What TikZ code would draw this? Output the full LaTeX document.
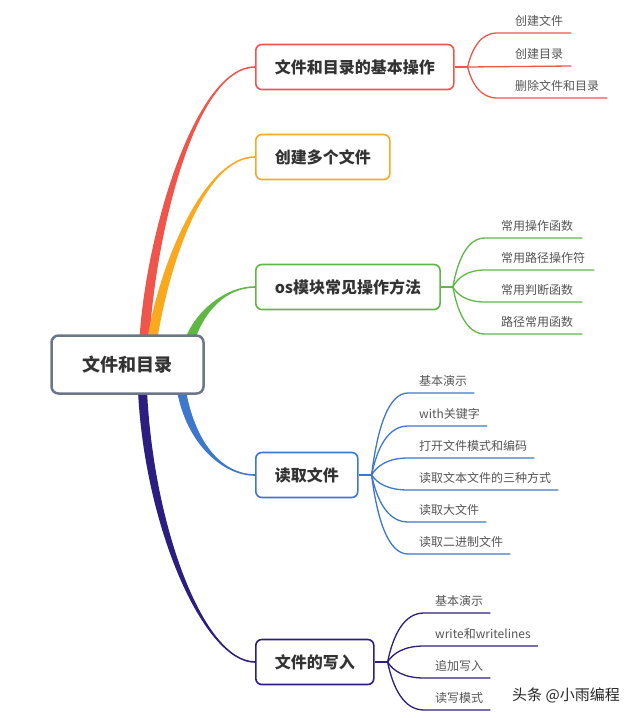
\documentclass[tikz,border=0pt]{standalone}
\usepackage{fontspec}
\setmainfont{Noto Sans CJK SC}
\usepackage{tikz}
\usetikzlibrary{calc,backgrounds}

\definecolor{mmred}{HTML}{F0554C}
\definecolor{mmorange}{HTML}{F9A91E}
\definecolor{mmgreen}{HTML}{5FB844}
\definecolor{mmblue}{HTML}{3D78CC}
\definecolor{mmnavy}{HTML}{2B1E80}
\definecolor{mmgray}{HTML}{6C7686}
\definecolor{mmtext}{HTML}{333333}
\definecolor{mmleaf}{HTML}{555555}

\tikzset{
  rootbox/.style={draw=mmgray,line width=2.5pt,rounded corners=7pt,fill=white,
    minimum height=58,inner xsep=31,text=mmtext,font=\fontsize{18}{22}\selectfont\bfseries},
  mainbox/.style={draw=#1,line width=1.6pt,rounded corners=6pt,fill=white,anchor=west,
    minimum height=45,inner xsep=19,text=mmtext,font=\fontsize{16}{19}\selectfont\bfseries},
  leaf/.style={anchor=south west,inner xsep=0,inner ysep=5.4pt,text depth=2pt,
    text=mmleaf,font=\fontsize{12}{14}\selectfont},
  twig/.style={draw=#1,line width=1.3pt,
    to path={let \p1=(\tikztostart), \p2=(\tikztotarget) in
      .. controls ({\x1+0.15*(\x2-\x1)},{\y1+0.55*(\y2-\y1)})
      and ({\x1+0.45*(\x2-\x1)},\y2) .. (\tikztotarget) \tikztonodes}}
}

% tapered limb: colour, start, end, half width, c1 x, c1 y, c2 x (fractions), side
\newcommand\limb[8]{%
\path[fill=#1] let \p1=(#2), \p2=(#3) in
  ({\x1-#4pt},\y1) .. controls ({\x1+#5*(\x2-\x1)-#4pt},{\y1+#6*(\y2-\y1)})
  and ({\x1+#7*(\x2-\x1)},{\y2-(#8)*0.8pt}) .. ({\x2},{\y2-(#8)*0.8pt})
  -- ({\x2},{\y2+(#8)*0.8pt})
  .. controls ({\x1+#7*(\x2-\x1)},{\y2+(#8)*0.8pt})
  and ({\x1+#5*(\x2-\x1)+#4pt},{\y1+#6*(\y2-\y1)}) .. ({\x1+#4pt},\y1) -- cycle;}

\begin{document}
\begin{tikzpicture}[x=1pt,y=-1pt]
\useasboundingbox (0,0) rectangle (640,718);

\node[rootbox] (root) at (127.5,364.5) {文件和目录};
\node[mainbox=mmred] (ops) at (255,67) {文件和目录的基本操作};
\node[mainbox=mmorange] (multi) at (255,157) {创建多个文件};
\node[mainbox=mmgreen] (os) at (255,287) {os模块常见操作方法};
\node[mainbox=mmblue] (read) at (255,475) {读取文件};
\node[mainbox=mmnavy] (write) at (255,662) {文件的写入};

% limbs from the root
\begin{scope}[on background layer]
\limb{mmred}{$(root.north)+(17,4)$}{ops.west}{5}{0.06}{0.39}{0.46}{-1}
\limb{mmorange}{$(root.north)+(25,4)$}{multi.west}{5}{0.12}{0.42}{0.51}{-1}
\limb{mmgreen}{$(root.north)+(63,4)$}{os.west}{5}{0.15}{0.52}{0.54}{-1}
\limb{mmblue}{$(root.south)+(54,-4)$}{read.west}{4.5}{0.13}{0.63}{0.56}{1}
\limb{mmnavy}{$(root.south)+(15,-4)$}{write.west}{4.5}{0.06}{0.51}{0.55}{1}
\end{scope}

% leaves
\node[leaf] (ops1) at (515,33) {创建文件};
\node[leaf] (ops2) at (515,66) {创建目录};
\node[leaf] (ops3) at (515,98) {删除文件和目录};

\node[leaf] (os1) at (501,238) {常用操作函数};
\node[leaf] (os2) at (501,270) {常用路径操作符};
\node[leaf] (os3) at (501,302) {常用判断函数};
\node[leaf] (os4) at (501,334) {路径常用函数};

\node[leaf] (read1) at (419,393) {基本演示};
\node[leaf] (read2) at (419,426) {with关键字};
\node[leaf] (read3) at (419,458) {打开文件模式和编码};
\node[leaf] (read4) at (419,490) {读取文本文件的三种方式};
\node[leaf] (read5) at (419,522) {读取大文件};
\node[leaf] (read6) at (419,554) {读取二进制文件};

\node[leaf] (write1) at (435,613) {基本演示};
\node[leaf] (write2) at (435,646) {write和writelines};
\node[leaf] (write3) at (435,678) {追加写入};
\node[leaf] (write4) at (435,710) {读写模式};

\node[text=black!85,font=\fontsize{15}{18}\selectfont] (mark) at (566,695) {头条 @小雨编程};

% twigs
\draw[twig=mmred] (ops.east) -- ++(13,0) coordinate (opsf);
\draw[twig=mmred] (opsf) to ([xshift=-18pt]ops1.south west) -- ([xshift=8pt]ops1.south east);
\draw[twig=mmred] (opsf) -- ([xshift=8pt]ops2.south east);
\draw[twig=mmred] (opsf) to ([xshift=-18pt]ops3.south west) -- ([xshift=8pt]ops3.south east);

\draw[twig=mmgreen] (os.east) -- ++(12,0) coordinate (osf);
\draw[twig=mmgreen] (osf) to ([xshift=-16pt]os1.south west) -- ([xshift=9pt]os1.south east);
\draw[twig=mmgreen] (osf) to ([xshift=-16pt]os2.south west) -- ([xshift=9pt]os2.south east);
\draw[twig=mmgreen] (osf) to ([xshift=-16pt]os3.south west) -- ([xshift=9pt]os3.south east);
\draw[twig=mmgreen] (osf) to ([xshift=-16pt]os4.south west) -- ([xshift=9pt]os4.south east);

\draw[twig=mmblue] (read.east) -- ++(13,0) coordinate (readf);
\draw[twig=mmblue] (readf) to ([xshift=-11pt]read1.south west) -- ([xshift=7pt]read1.south east);
\draw[twig=mmblue] (readf) to ([xshift=-11pt]read2.south west) -- ([xshift=7pt]read2.south east);
\draw[twig=mmblue] (readf) to ([xshift=-11pt]read3.south west) -- ([xshift=7pt]read3.south east);
\draw[twig=mmblue] (readf) to ([xshift=-11pt]read4.south west) -- ([xshift=7pt]read4.south east);
\draw[twig=mmblue] (readf) to ([xshift=-11pt]read5.south west) -- ([xshift=7pt]read5.south east);
\draw[twig=mmblue] (readf) to ([xshift=-11pt]read6.south west) -- ([xshift=7pt]read6.south east);

\draw[twig=mmnavy] (write.east) -- ++(13,0) coordinate (writef);
\draw[twig=mmnavy] (writef) to ([xshift=-11pt]write1.south west) -- ([xshift=7pt]write1.south east);
\draw[twig=mmnavy] (writef) to ([xshift=-11pt]write2.south west) -- ([xshift=7pt]write2.south east);
\draw[twig=mmnavy] (writef) to ([xshift=-11pt]write3.south west) -- ([xshift=7pt]write3.south east);
\draw[twig=mmnavy] (writef) to ([xshift=-11pt]write4.south west) -- ([xshift=7pt]write4.south east);
\end{tikzpicture}
\end{document}
